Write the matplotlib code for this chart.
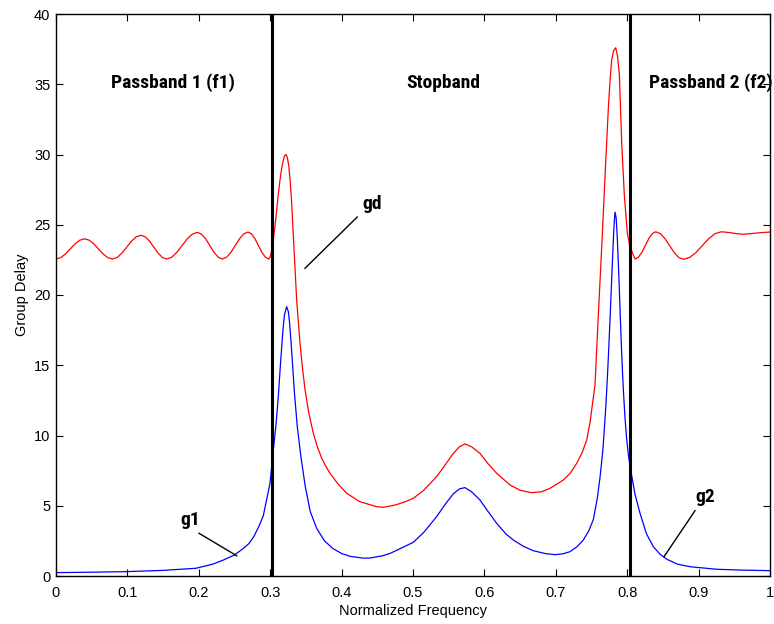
import matplotlib
matplotlib.use("Agg")
import matplotlib.pyplot as plt
from matplotlib import font_manager

# group delay of the whole filter (red)
gd_x = [0.0, 0.0067, 0.0133, 0.02, 0.0267, 0.0333, 0.04,
        0.0465, 0.053, 0.0595, 0.066, 0.0725, 0.079,
        0.0857, 0.0923, 0.099, 0.1057, 0.1123, 0.119,
        0.125, 0.131, 0.137, 0.143, 0.149, 0.155,
        0.1622, 0.1693, 0.1765, 0.1837, 0.1908, 0.198,
        0.2038, 0.2097, 0.2155, 0.2213, 0.2272, 0.233,
        0.239, 0.245, 0.251, 0.257, 0.263, 0.269,
        0.2738, 0.2787, 0.2835, 0.2883, 0.2932, 0.298,
        0.300, 0.3025, 0.305, 0.308, 0.311, 0.314, 0.317, 0.320,
        0.322, 0.324, 0.326, 0.328, 0.330, 0.3324, 0.335, 0.3371,
        0.3417, 0.345, 0.3487, 0.354, 0.3604, 0.366, 0.372, 0.378,
        0.3838, 0.395, 0.4071, 0.425, 0.4491, 0.4584, 0.475, 0.49,
        0.5005, 0.515, 0.533, 0.545, 0.5565, 0.565, 0.5728, 0.582,
        0.5938, 0.605, 0.6172, 0.6359, 0.65, 0.6662, 0.68, 0.6919,
        0.7105, 0.72, 0.7293, 0.737, 0.7433, 0.748, 0.7549, 0.7595,
        0.7643, 0.7689, 0.7736, 0.776, 0.7782, 0.781, 0.7839, 0.7865,
        0.789, 0.7923, 0.796, 0.8002, 0.804, 0.811,
        0.8158, 0.8207, 0.8255, 0.8303, 0.8352, 0.840,
        0.8464, 0.8529, 0.8593, 0.8657, 0.8722, 0.8786,
        0.8875, 0.8964, 0.9053, 0.9142, 0.9231, 0.932,
        0.9421, 0.9525, 0.9626, 0.98, 0.99, 1.0]
gd_y = [22.56, 22.66, 22.92, 23.28, 23.64, 23.90, 24.0,
        23.90, 23.64, 23.28, 22.92, 22.66, 22.56,
        22.67, 22.98, 23.40, 23.83, 24.14, 24.25,
        24.14, 23.83, 23.40, 22.98, 22.67, 22.56,
        22.69, 23.04, 23.51, 23.99, 24.33, 24.46,
        24.33, 23.99, 23.51, 23.04, 22.69, 22.56,
        22.69, 23.04, 23.52, 24.0, 24.35, 24.48,
        24.35, 24.0, 23.52, 23.04, 22.69, 22.56,
        22.7, 23.3, 24.2, 25.5, 27.0, 28.3, 29.3, 29.9,
        30.0, 29.8, 29.2, 28.1, 26.6, 24.2, 21.6, 19.6,
        16.6, 14.9, 13.3, 11.6, 10.16, 9.2, 8.4, 7.8,
        7.31, 6.55, 5.89, 5.3, 4.93, 4.89, 5.05, 5.3,
        5.53, 6.1, 7.07, 7.9, 8.73, 9.2, 9.40, 9.2,
        8.73, 8.0, 7.31, 6.48, 6.1, 5.93, 6.0, 6.24,
        6.83, 7.3, 8.02, 8.8, 9.68, 10.96, 13.6, 18.5,
        23.4, 28.4, 33.3, 35.3, 36.7, 37.4, 37.6, 37.0,
        35.7, 30.8, 27.1, 24.4, 23.4, 22.56,
        22.69, 23.05, 23.53, 24.02, 24.37, 24.5,
        24.37, 24.01, 23.52, 23.03, 22.67, 22.54,
        22.67, 23.03, 23.52, 24.01, 24.37, 24.5,
        24.45, 24.37, 24.32, 24.4, 24.45, 24.48]

# group delay of the section filters (blue)
g_x = [0.0, 0.05, 0.098, 0.15, 0.196, 0.22, 0.235, 0.25, 0.262,
       0.27, 0.277, 0.2848, 0.2904, 0.2997, 0.3044, 0.308, 0.3114,
       0.314, 0.3161, 0.318, 0.320, 0.3231, 0.3255, 0.327, 0.329,
       0.331, 0.334, 0.338, 0.343, 0.349, 0.356, 0.365, 0.376,
       0.388, 0.40, 0.412, 0.43, 0.44, 0.458, 0.468, 0.482,
       0.5005, 0.515, 0.533, 0.545, 0.5565, 0.565, 0.5728, 0.582,
       0.5938, 0.605, 0.6172, 0.63, 0.6405, 0.655, 0.6685, 0.685,
       0.6989, 0.71, 0.7199, 0.73, 0.7385, 0.746, 0.7525, 0.758,
       0.7619, 0.766, 0.770, 0.772, 0.774, 0.776, 0.778, 0.780,
       0.7815, 0.7829, 0.7845, 0.786, 0.7875, 0.789, 0.7905, 0.792,
       0.7935, 0.795, 0.797, 0.799, 0.8015, 0.804, 0.811, 0.818,
       0.827, 0.8366, 0.846, 0.8553, 0.87, 0.888, 0.9253, 0.96,
       1.0]
g_y = [0.24, 0.27, 0.31, 0.40, 0.55, 0.85, 1.15, 1.5, 1.95,
       2.3, 2.8, 3.6, 4.3, 6.6, 8.97, 10.7, 12.8,
       14.8, 16.3, 17.6, 18.6, 19.17, 18.8, 18.1, 16.8,
       15.3, 13.0, 10.6, 8.5, 6.4, 4.6, 3.4, 2.5,
       1.95, 1.6, 1.4, 1.27, 1.28, 1.45, 1.61, 1.95,
       2.4, 3.1, 4.22, 5.1, 5.85, 6.2, 6.29, 6.0,
       5.41, 4.6, 3.75, 3.0, 2.56, 2.1, 1.8, 1.6,
       1.52, 1.58, 1.73, 2.1, 2.56, 3.2, 4.0, 5.5,
       7.0, 9.0, 12.0, 13.9, 16.0, 18.3, 20.8, 23.2,
       24.9, 25.9, 25.5, 24.2, 22.4, 20.4, 18.2, 16.2,
       14.4, 12.9, 11.2, 9.9, 8.7, 7.8, 5.8, 4.46,
       3.0, 2.09, 1.55, 1.2, 0.85, 0.66, 0.48, 0.42,
       0.38]

band_edges = [0.3025, 0.804]
band_labels = ["Passband 1 (f1)", "Stopband", "Passband 2 (f2)"]
band_label_x = [0.1643, 0.542, 1.003]
band_label_ha = ["center", "center", "right"]

# pick a narrow font for the annotations if one is installed
installed = {f.name for f in font_manager.fontManager.ttflist}
lab_family, lab_size = "DejaVu Sans", 10.3
for fam, size in [("Roboto Condensed", 14), ("Liberation Sans Narrow", 13),
                  ("Open Sans Condensed", 14)]:
    if fam in installed:
        lab_family, lab_size = fam, size
        break
lab_font = dict(family=lab_family, fontweight="bold", fontsize=lab_size)

fig = plt.figure(figsize=(7.74, 6.24), dpi=100)
ax = fig.add_axes([56 / 774, 1 - 576 / 624, 714 / 774, 562 / 624])

ax.plot(gd_x, gd_y, color="red", lw=0.9)
ax.plot(g_x, g_y, color="blue", lw=0.9)
for xe in band_edges:
    ax.axvline(xe, color="black", lw=2.2)

ax.set_xlim(0, 1)
ax.set_ylim(0, 40)
ax.set_xticks([i / 10 for i in range(11)])
ax.set_xticklabels(["0", "0.1", "0.2", "0.3", "0.4", "0.5", "0.6", "0.7", "0.8", "0.9", "1"])
ax.set_yticks(range(0, 41, 5))
ax.tick_params(direction="in", top=True, right=True, length=5, width=0.8,
               labelsize=10.5, pad=4)
ax.tick_params(axis="x", pad=7)
for lab in ax.get_xticklabels() + ax.get_yticklabels():
    lab.set_family("Liberation Sans")
for sp in ax.spines.values():
    sp.set_linewidth(1.0)

ax.set_xlabel("Normalized Frequency", family="Liberation Sans", fontsize=10.5, labelpad=3)
ax.set_ylabel("Group Delay", family="Liberation Sans", fontsize=10.5, labelpad=4)

for lx, txt, ha in zip(band_label_x, band_labels, band_label_ha):
    ax.text(lx, 35.1, txt, ha=ha, va="center", clip_on=False, **lab_font)

# callouts
ax.plot([0.3487, 0.4219], [21.9, 25.55], color="black", lw=1)
ax.text(0.4286, 26.5, "gd", ha="left", va="center", **lab_font)
ax.plot([0.2003, 0.2531], [3.04, 1.44], color="black", lw=1)
ax.text(0.1737, 4.0, "g1", ha="left", va="center", **lab_font)
ax.plot([0.895, 0.8515], [4.65, 1.37], color="black", lw=1)
ax.text(0.895, 5.6, "g2", ha="left", va="center", **lab_font)

fig.savefig("out.png", dpi=100)
